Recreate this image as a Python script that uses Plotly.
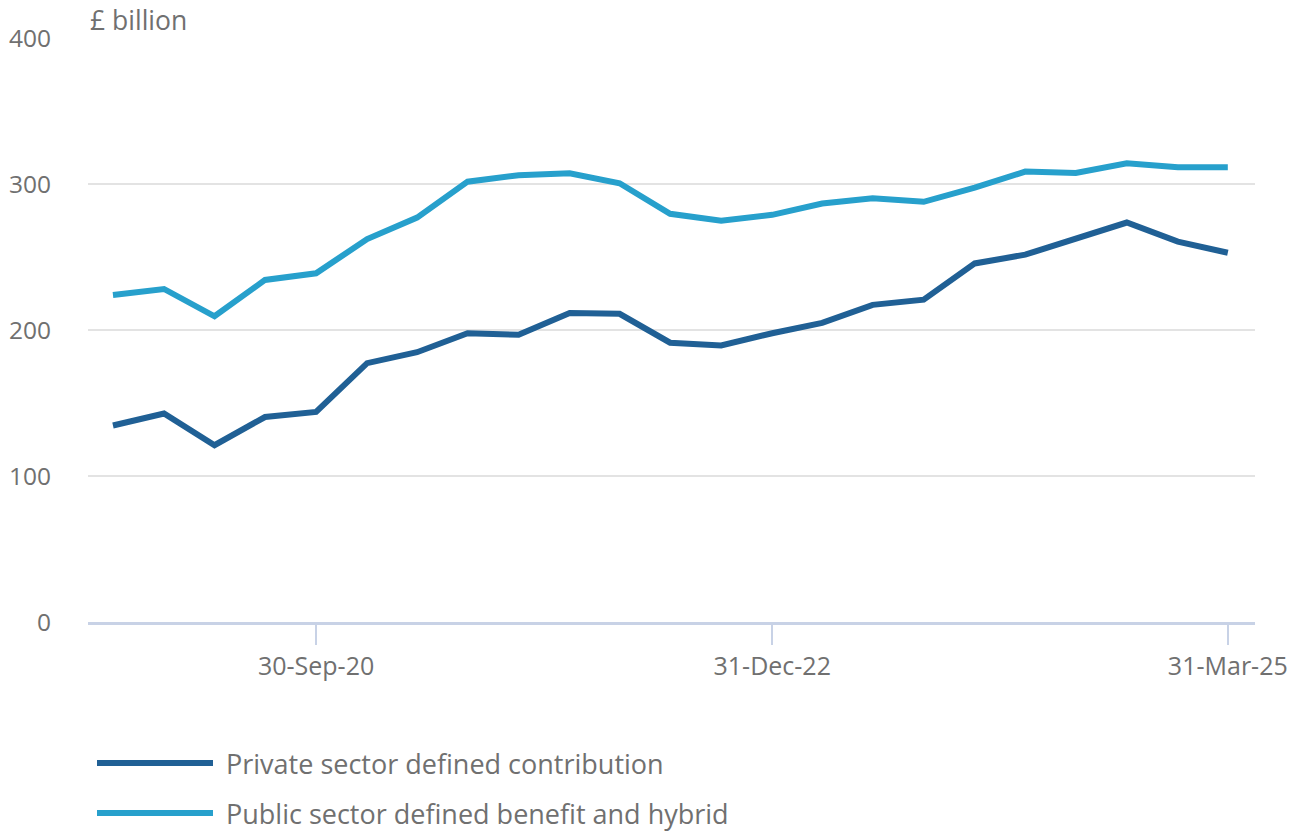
import plotly.graph_objects as go

# Quarter-end dates, Sep 2019 to Mar 2025
quarters = [
    "2019-09-30", "2019-12-31", "2020-03-31", "2020-06-30", "2020-09-30",
    "2020-12-31", "2021-03-31", "2021-06-30", "2021-09-30", "2021-12-31",
    "2022-03-31", "2022-06-30", "2022-09-30", "2022-12-31", "2023-03-31",
    "2023-06-30", "2023-09-30", "2023-12-31", "2024-03-31", "2024-06-30",
    "2024-09-30", "2024-12-31", "2025-03-31",
]

# £ billion
private_dc = [
    134.6, 142.8, 121.1, 140.4, 143.9, 177.3, 184.8, 197.8, 196.7, 211.7,
    211.1, 191.3, 189.4, 197.8, 204.9, 217.2, 220.8, 245.6, 251.6, 263.0,
    273.6, 260.5, 252.9,
]
public_db_hybrid = [
    224.0, 228.1, 209.4, 234.3, 238.8, 262.3, 277.0, 301.6, 306.0, 307.4,
    300.5, 279.6, 274.8, 278.9, 286.6, 290.3, 287.8, 297.5, 308.5, 307.6,
    314.2, 311.5, 311.5,
]

series_names = [
    "Private sector defined contribution",
    "Public sector defined benefit and hybrid",
]

x_tick_dates = ["2020-09-30", "2022-12-31", "2025-03-31"]
x_tick_labels = ["30-Sep-20", "31-Dec-22", "31-Mar-25"]
y_ticks = [0, 100, 200, 300, 400]

DARK = "#206095"
LIGHT = "#27A0CC"
GREY = "#707070"
AXIS = "#c8d2e6"
FONT = "Open Sans"

W, H = 1301, 834
ML, MR, MT, MB = 88, 46, 38, 212
PW, PH = W - ML - MR, H - MT - MB

fig = go.Figure()
for vals, name, col in [(private_dc, series_names[0], DARK),
                        (public_db_hybrid, series_names[1], LIGHT)]:
    fig.add_trace(go.Scatter(
        x=quarters, y=vals, mode="lines", name=name,
        line=dict(color=col, width=6), showlegend=False,
    ))

# Legend drawn below the plot as line swatches with labels
shapes, annotations = [], []
for i, (name, col) in enumerate(zip(series_names, [DARK, LIGHT])):
    ypx = 763 + 50 * i
    yp = (MT + PH - ypx) / PH
    shapes.append(dict(
        type="line", xref="paper", yref="paper",
        x0=(97 - ML) / PW, x1=(213 - ML) / PW, y0=yp, y1=yp,
        line=dict(color=col, width=6),
    ))
    annotations.append(dict(
        text=name, xref="paper", yref="paper",
        x=(224 - ML) / PW, y=yp, xanchor="left", yanchor="middle",
        showarrow=False, font=dict(size=27, color=GREY, family=FONT),
    ))

annotations.append(dict(
    text="£ billion", xref="paper", yref="paper", x=0, y=1.0,
    xanchor="left", yanchor="bottom", yshift=-2, showarrow=False,
    font=dict(size=26.5, color=GREY, family=FONT),
))

fig.update_layout(
    width=W, height=H,
    margin=dict(l=ML, r=MR, t=MT, b=MB, autoexpand=False),
    paper_bgcolor="white", plot_bgcolor="white",
    font=dict(family=FONT, color=GREY, size=24),
    showlegend=False,
    shapes=shapes,
    annotations=annotations,
)

fig.update_xaxes(
    type="date",
    range=["2019-08-16", "2025-05-19"],
    tickvals=x_tick_dates, ticktext=x_tick_labels,
    ticks="outside", ticklen=20, tickwidth=1.5, tickcolor=AXIS,
    tickfont=dict(size=25, color=GREY, family=FONT),
    showgrid=False, showline=True, linecolor=AXIS, linewidth=2.5,
    zeroline=False, automargin=False,
)
fig.update_yaxes(
    range=[0, 400], tickvals=y_ticks,
    showgrid=True, gridcolor="#e3e3e3", gridwidth=2,
    zeroline=False, showline=False, ticks="",
    ticklabelstandoff=36, automargin=False,
    tickfont=dict(size=24.5, color=GREY, family=FONT),
)

fig.write_html("out.html")
